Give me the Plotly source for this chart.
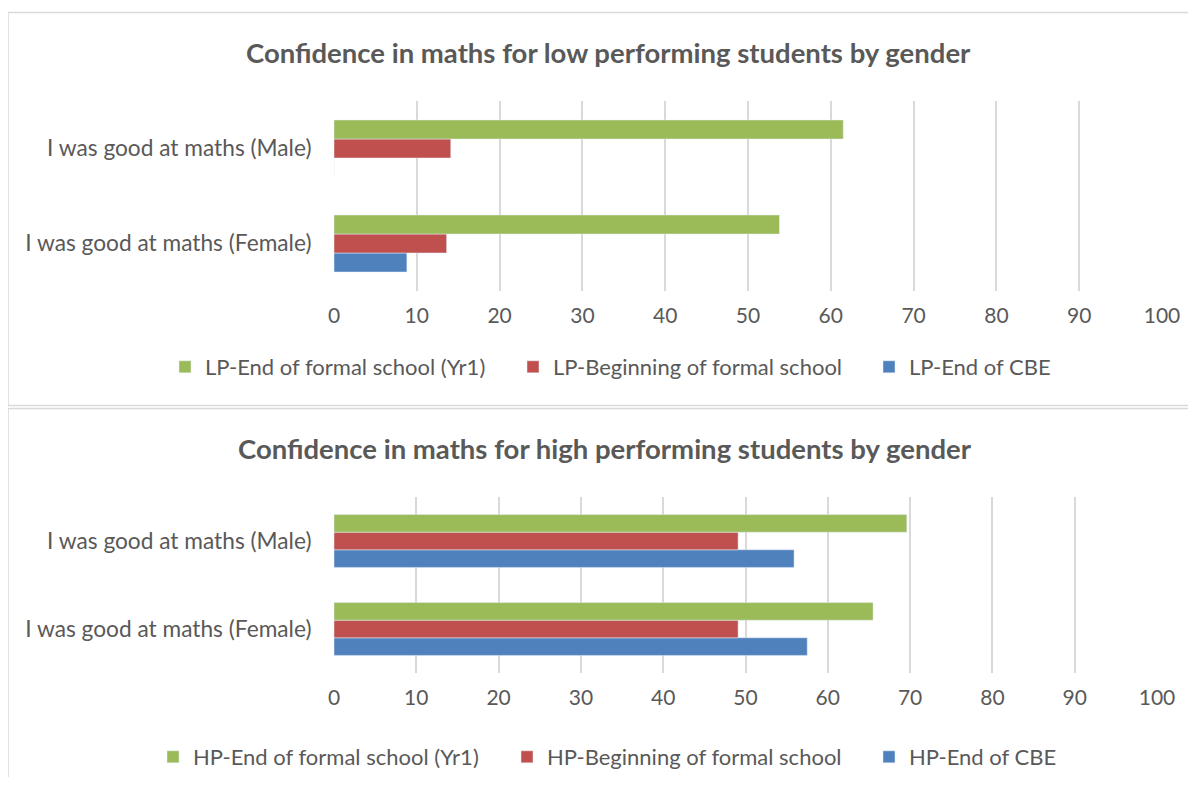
import plotly.graph_objects as go

W, H = 1180, 769
OFF = 8  # default page margin of the body

categories = ["I was good at maths (Female)", "I was good at maths (Male)"]
ticks = [0, 10, 20, 30, 40, 50, 60, 70, 80, 90, 100]

# Low performing (values per category: Female, Male)
lp_end_cbe = [8.8, 0]
lp_begin_formal = [13.6, 14.1]
lp_end_formal_yr1 = [53.8, 61.5]

# High performing
hp_end_cbe = [57.5, 55.9]
hp_begin_formal = [49.1, 49.1]
hp_end_formal_yr1 = [65.5, 69.6]

title_top = "Confidence in maths for low performing students by gender"
title_bot = "Confidence in maths for high performing students by gender"

GREEN, RED, BLUE = "#9BBB59", "#C0504D", "#4F81BD"
TXT = "#595959"
GRID = "#D9D9D9"
FONT = "Lato, 'Open Sans', sans-serif"

def px(x):
    return (x - OFF) / W

def py(y):
    return 1 - (y - OFF) / H

fig = go.Figure()

specs = [
    (lp_end_cbe, "LP-End of CBE", BLUE, "x", "y", "legend3"),
    (lp_begin_formal, "LP-Beginning of formal school", RED, "x", "y", "legend2"),
    (lp_end_formal_yr1, "LP-End of formal school (Yr1)", GREEN, "x", "y", "legend"),
    (hp_end_cbe, "HP-End of CBE", BLUE, "x2", "y2", "legend6"),
    (hp_begin_formal, "HP-Beginning of formal school", RED, "x2", "y2", "legend5"),
    (hp_end_formal_yr1, "HP-End of formal school (Yr1)", GREEN, "x2", "y2", "legend4"),
]
for vals, name, col, xa, ya, lg in specs:
    fig.add_trace(go.Bar(y=categories, x=vals, orientation="h", name=name,
                         marker_color=col, xaxis=xa, yaxis=ya, legend=lg))

xcommon = dict(range=[0, 100], tickvals=ticks, showgrid=True, gridcolor=GRID, gridwidth=1.5,
               zeroline=False, showline=False, ticks="outside", ticklen=6, automargin=False,
               tickcolor="rgba(0,0,0,0)", tickfont=dict(size=21, color=TXT, family=FONT),
               fixedrange=True)
ycommon = dict(type="category", showgrid=False, zeroline=False, showline=False, automargin=False,
               ticks="outside", ticklen=17, tickcolor="rgba(0,0,0,0)",
               tickfont=dict(size=22.7, color=TXT, family=FONT), fixedrange=True)

def leg(text_x, y):
    return dict(orientation="h", font=dict(size=22, color=TXT, family=FONT),
                bgcolor="rgba(0,0,0,0)", xanchor="left", yanchor="middle",
                x=px(text_x - 40), y=py(y), itemclick=False, itemdoubleclick=False)

fig.update_layout(
    width=W, height=H,
    margin=dict(l=0, r=0, t=0, b=0, autoexpand=False),
    paper_bgcolor="white", plot_bgcolor="white",
    barmode="group", bargap=0.4, bargroupgap=0,
    showlegend=True,
    xaxis=dict(domain=[px(334), px(1162)], anchor="y", **xcommon),
    yaxis=dict(domain=[py(291), py(101)], anchor="x", **ycommon),
    xaxis2=dict(domain=[px(334), px(1157)], anchor="y2", **xcommon),
    yaxis2=dict(domain=[py(673), py(497)], anchor="x2", **ycommon),
    legend=leg(205, 367),
    legend2=leg(553, 367),
    legend3=leg(909, 367),
    legend4=leg(193, 757),
    legend5=leg(547, 757),
    legend6=leg(909, 757),
    shapes=[
        dict(type="rect", xref="paper", yref="paper", x0=px(8), x1=px(1210), y0=py(405.5), y1=py(12.5),
             line=dict(color=GRID, width=1.5), fillcolor="rgba(0,0,0,0)", layer="below"),
        dict(type="rect", xref="paper", yref="paper", x0=px(8), x1=px(1210), y0=py(820), y1=py(408.5),
             line=dict(color=GRID, width=1.5), fillcolor="rgba(0,0,0,0)", layer="below"),
    ],
    annotations=[
        dict(text="<b>" + title_top + "</b>", xref="paper", yref="paper", x=px(608), y=py(52),
             xanchor="center", yanchor="middle", showarrow=False,
             font=dict(size=27.5, color=TXT, family=FONT)),
        dict(text="<b>" + title_bot + "</b>", xref="paper", yref="paper", x=px(605), y=py(448),
             xanchor="center", yanchor="middle", showarrow=False,
             font=dict(size=27.5, color=TXT, family=FONT)),
    ],
)

fig.write_html("out.html")
